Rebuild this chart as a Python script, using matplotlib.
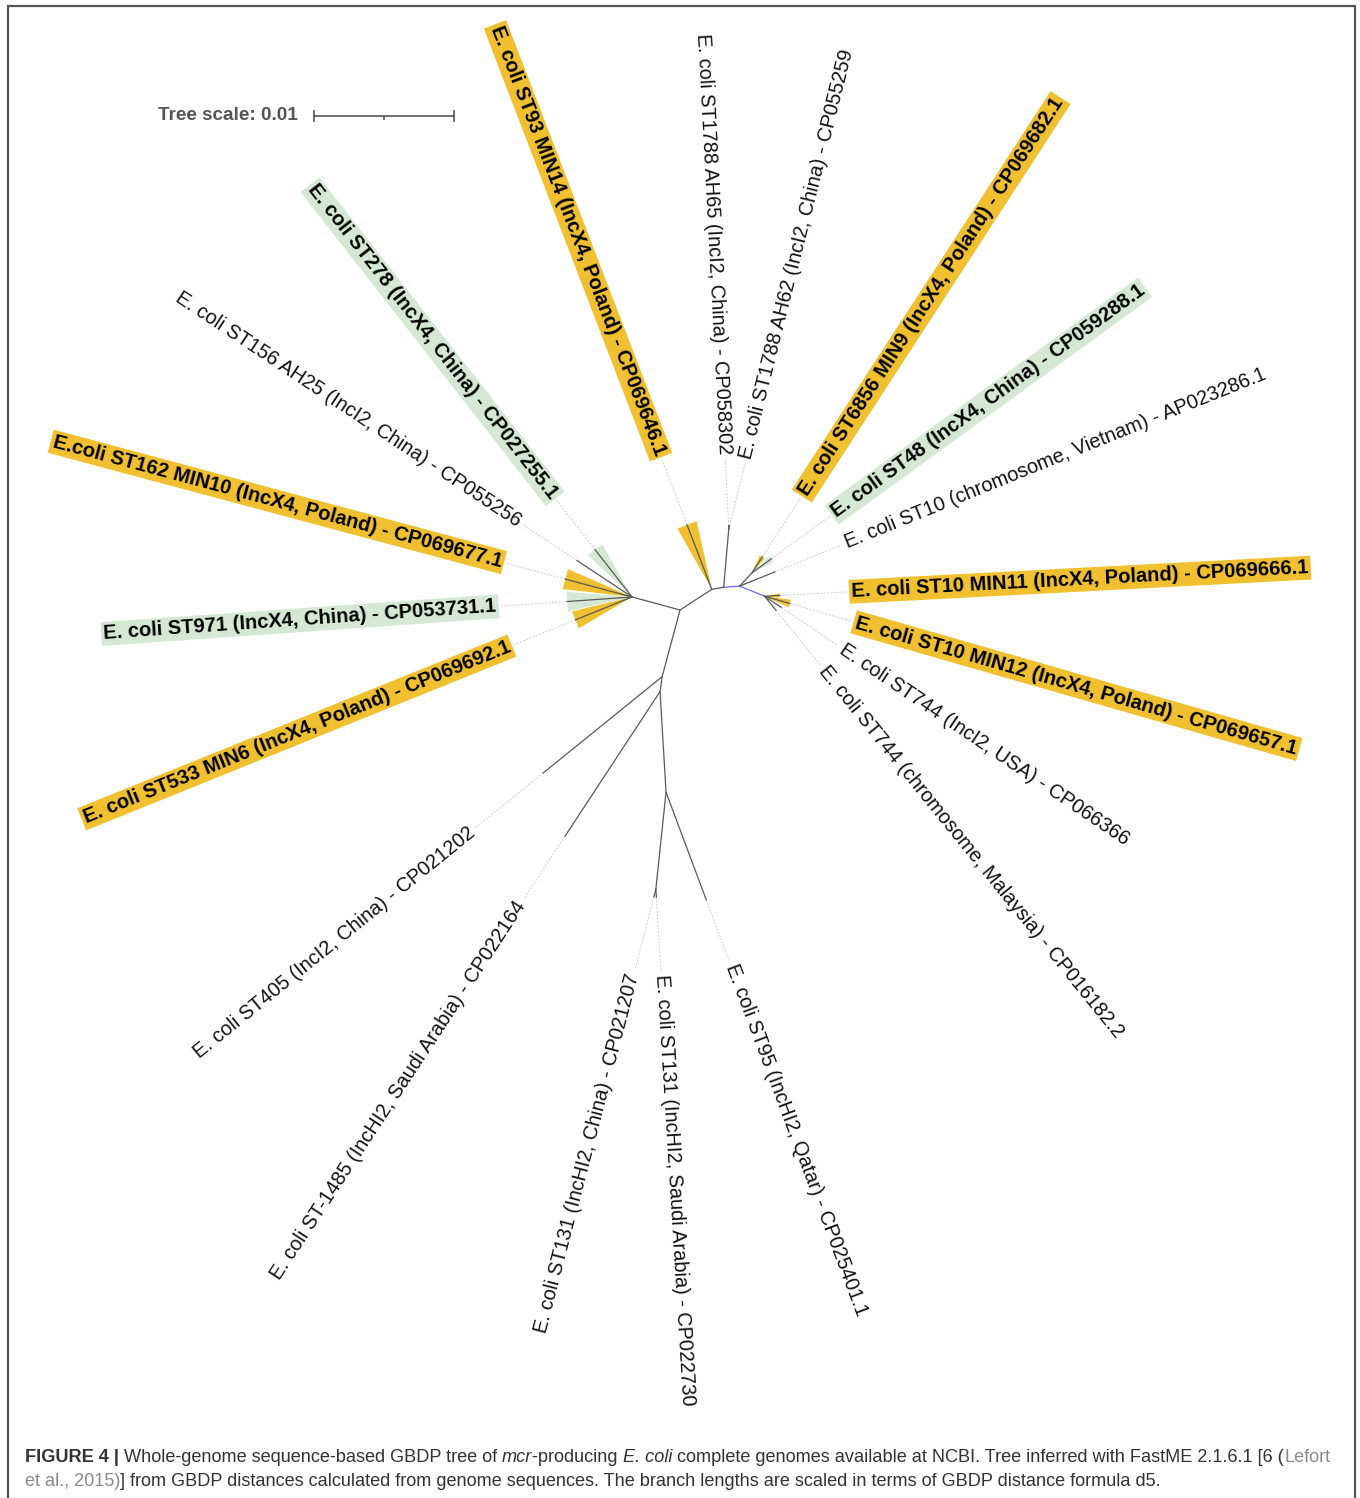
import numpy as np
import matplotlib
matplotlib.use("Agg")
import matplotlib.pyplot as plt
from matplotlib.patches import Polygon

plt.rcParams["font.family"] = ["Liberation Sans", "DejaVu Sans"]

# GBDP d5 distance -> canvas pixels
PX_PER_UNIT = 14000.0
SCALE_VALUE = 0.01

# internal nodes, listed parent-first; lengths in GBDP distance units
node_names = ["B", "A", "C", "D", "E", "F", "K", "L", "G", "H", "I", "J"]
node_parents = [None, "B", "B", "C", "D", "E", "D", "E", "B", "G", "H", "I"]
node_lengths = [0.0, 0.00355, 0.00271, 0.00086, 0.00114, 0.00193,
                0.00421, 0.00129, 0.00493, 0.00107, 0.00721, 0.00696]
node_angles = [0.0, 164.8, 33.0, 10.0, 4.0, -22.0, 85.0, 47.0, -105.0, -98.0, -86.6, -96.0]
blue_edges = ["E", "F"]

leaf_labels = [
    "E. coli ST10 MIN11 (IncX4, Poland) - CP069666.1",
    "E. coli ST10 MIN12 (IncX4, Poland) - CP069657.1",
    "E. coli ST744 (IncI2, USA) - CP066366",
    "E. coli ST744 (chromosome, Malaysia) - CP016182.2",
    "E. coli ST10 (chromosome, Vietnam) - AP023286.1",
    "E. coli ST6856 MIN9 (IncX4, Poland) - CP069682.1",
    "E. coli ST48 (IncX4, China) - CP059288.1",
    "E. coli ST1788 AH62 (IncI2, China) - CP055259",
    "E. coli ST1788 AH65 (IncI2, China) - CP058302",
    "E. coli ST93 MIN14 (IncX4, Poland) - CP069646.1",
    "E. coli ST278 (IncX4, China) - CP027255.1",
    "E. coli ST156 AH25 (IncI2, China) - CP055256",
    "E.coli ST162 MIN10 (IncX4, Poland) - CP069677.1",
    "E. coli ST971 (IncX4, China) - CP053731.1",
    "E. coli ST533 MIN6 (IncX4, Poland) - CP069692.1",
    "E. coli ST405 (IncI2, China) - CP021202",
    "E. coli ST-1485 (IncHI2, Saudi Arabia) - CP022164",
    "E. coli ST131 (IncHI2, China) - CP021207",
    "E. coli ST131 (IncHI2, Saudi Arabia) - CP022730",
    "E. coli ST95 (IncHI2, Qatar) - CP025401.1",
]
leaf_parents = ["F", "F", "F", "F", "E", "L", "L", "K", "K", "C",
                "A", "A", "A", "A", "A", "G", "H", "J", "J", "I"]
leaf_angles = [3.0, -16.0, -34.0, -51.0, 22.0, 57.0, 36.0, 76.0, 93.0, 111.0,
               128.0, 146.5, 165.0, 184.0, 202.0, 219.0, 236.7, 255.5, 273.5, -69.5]
leaf_lengths = [0.00107, 0.00186, 0.00143, 0.00129, 0.00271, 0.00136, 0.00171,
                0.00020, 0.00020, 0.00493, 0.00429, 0.00471, 0.00493, 0.00464,
                0.00436, 0.01093, 0.01236, 0.00057, 0.00057, 0.00821]
leaf_groups = ["poland", "poland", None, None, None, "poland", "china", None, None,
               "poland", "china", None, "poland", "china", "poland",
               None, None, None, None, None]

# layout: distance (px) from the parent node to where each label starts
label_reach = [83, 91, 88, 88, 110, 90, 97, 68, 70, 140,
               123, 131, 131, 132, 128, 240, 248, 84, 81, 180]

ROOT_XY = (680.0, 610.0)
WEDGE_HALF = 8.5
group_colors = {"poland": "#f0c030", "china": "#d5e8d4"}
BRANCH = "#5a5a5a"
GUIDE = "#cfcfcf"

fig = plt.figure(figsize=(13.6, 14.98), dpi=100)
ax = fig.add_axes([0, 0, 1, 1])
ax.set_xlim(0, 1360)
ax.set_ylim(1498, 0)
ax.axis("off")


def step(origin, angle, dist):
    t = np.radians(angle)
    return origin[0] + dist * np.cos(t), origin[1] - dist * np.sin(t)


# internal branches
pos = {node_names[0]: ROOT_XY}
for name, par, ln, ang in zip(node_names, node_parents, node_lengths, node_angles):
    if par is None:
        continue
    pos[name] = step(pos[par], ang, ln * PX_PER_UNIT)
    col = "#6b6bf5" if name in blue_edges else BRANCH
    ax.plot([pos[par][0], pos[name][0]], [pos[par][1], pos[name][1]],
            color=col, lw=0.9, zorder=3, solid_capstyle="round")

# leaves: wedge highlight, branch, guide line, label
for lab, par, ang, ln, grp, reach in zip(leaf_labels, leaf_parents, leaf_angles,
                                         leaf_lengths, leaf_groups, label_reach):
    base = pos[par]
    r = ln * PX_PER_UNIT
    tip = step(base, ang, r)
    end = step(base, ang, reach)
    if grp is not None:
        rr = r / np.cos(np.radians(WEDGE_HALF))
        wedge = Polygon([base, step(base, ang + WEDGE_HALF, rr), step(base, ang - WEDGE_HALF, rr)],
                        closed=True, facecolor=group_colors[grp], edgecolor="none", zorder=1)
        ax.add_patch(wedge)
    ax.plot([base[0], tip[0]], [base[1], tip[1]], color=BRANCH, lw=0.9, zorder=3)
    ax.plot([tip[0], end[0]], [tip[1], end[1]], color=GUIDE, lw=0.7,
            ls=(0, (2, 1.5)), zorder=2)

    a = (ang + 180) % 360 - 180
    if -90 < a <= 90:
        rot, ha = a, "left"
    else:
        rot, ha = a - 180 if a > 0 else a + 180, "right"
    anchor = step(base, ang, reach + 4)
    kw = dict(rotation=rot, rotation_mode="anchor", ha=ha, va="center",
              fontsize=14.4, color="#111111", zorder=5)
    if grp is not None:
        kw.update(fontweight="bold", fontsize=14.5, color="#000000",
                  bbox=dict(boxstyle="square,pad=0.12", fc=group_colors[grp], ec="none"))
    ax.text(anchor[0], anchor[1], lab, **kw)

# tree scale bar
bar_x0, bar_y = 314.0, 116.0
bar_x1 = bar_x0 + SCALE_VALUE * PX_PER_UNIT
ax.plot([bar_x0, bar_x1], [bar_y, bar_y], color="#555555", lw=1.2)
for bx in (bar_x0, bar_x1):
    ax.plot([bx, bx], [bar_y - 5, bar_y + 5], color="#555555", lw=1.2)
ax.plot([(bar_x0 + bar_x1) / 2] * 2, [bar_y, bar_y + 3], color="#555555", lw=1.2)
ax.text(bar_x0 - 16, bar_y, "Tree scale: 0.01", ha="right", va="center",
        fontsize=13.6, fontweight="bold", color="#555555")

# frame
ax.plot([8, 8, 1355, 1355], [1498, 6, 6, 1498], color="#555555", lw=1.6,
        solid_joinstyle="miter", clip_on=False)

# caption, drawn run by run
renderer = fig.canvas.get_renderer()
cap_color = "#333333"
link_color = "#8a8a8a"
caption_lines = [
    [("FIGURE 4 | ", dict(fontweight="bold")),
     ("Whole-genome sequence-based GBDP tree of ", {}),
     ("mcr", dict(style="italic")),
     ("-producing ", {}),
     ("E. coli", dict(style="italic")),
     (" complete genomes available at NCBI. Tree inferred with FastME 2.1.6.1 [6 (", {}),
     ("Lefort", dict(color=link_color))],
    [("et al., 2015)", dict(color=link_color)),
     ("] from GBDP distances calculated from genome sequences. The branch lengths "
      "are scaled in terms of GBDP distance formula d5.", {})],
]
for baseline, runs in zip([1462, 1486], caption_lines):
    x = 25.0
    for txt, style in runs:
        kw = dict(fontsize=13.05, color=cap_color, ha="left", va="baseline")
        kw.update(style)
        t = ax.text(x, baseline, txt, **kw)
        x += t.get_window_extent(renderer).width

fig.savefig("out.png", dpi=100)
